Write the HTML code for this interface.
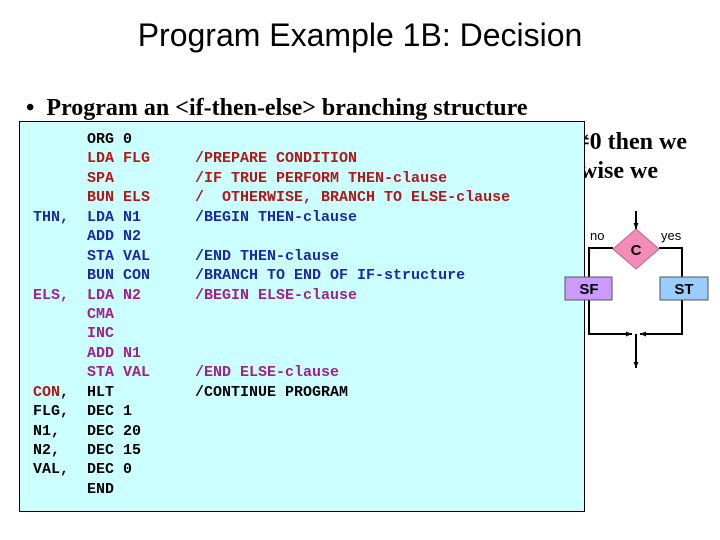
<!DOCTYPE html>
<html><head><meta charset="utf-8"><style>
body{margin:0;width:720px;height:540px;background:#fff;position:relative;overflow:hidden;font-family:"Liberation Sans",sans-serif}
.t{position:absolute;white-space:pre}
.rt{position:absolute;white-space:pre;text-align:right;font:bold 24px 'Liberation Serif',serif}
#box{position:absolute;left:19px;top:121px;width:566px;height:391px;background:#ccffff;border:1px solid #000;box-sizing:border-box}
pre{position:absolute;left:33px;top:130px;margin:0;font:bold 15px/19.44px "Liberation Mono",monospace;color:#000}
.r{color:#b01818}.b{color:#1c28a8}.m{color:#a0208c}
</style></head><body>
<div class="t" style="left:0;width:720px;text-align:center;top:17px;font-size:32px">Program Example 1B: Decision</div>
<div class="t" style="left:26px;top:95px;font:bold 24px 'Liberation Serif',serif">•&nbsp;&nbsp;Program an &lt;if-then-else&gt; branching structure</div>
<div class="rt" style="right:33px;top:129px">the condition is ≠0 then we</div>
<div class="rt" style="right:62px;top:158px">perform, otherwise we</div>
<div id="box"></div>
<pre>      ORG 0
<span class="r">      LDA FLG     /PREPARE CONDITION
      SPA         /IF TRUE PERFORM THEN-clause
      BUN ELS     /  OTHERWISE, BRANCH TO ELSE-clause</span>
<span class="b">THN,  LDA N1      /BEGIN THEN-clause
      ADD N2
      STA VAL     /END THEN-clause
      BUN CON     /BRANCH TO END OF IF-structure</span>
<span class="m">ELS,  LDA N2      /BEGIN ELSE-clause
      CMA
      INC
      ADD N1
      STA VAL     /END ELSE-clause</span>
<span class="r">CON</span>,  HLT         /CONTINUE PROGRAM
FLG,  DEC 1
N1,   DEC 20
N2,   DEC 15
VAL,  DEC 0
      END</pre>
<svg style="position:absolute;left:0;top:0" width="720" height="540">
<defs><marker id="a" markerUnits="userSpaceOnUse" markerWidth="8" markerHeight="8" refX="6" refY="4" orient="auto"><path d="M0,1.5 L6,4 L0,6.5z" fill="#000"/></marker></defs>
<g stroke="#000" stroke-width="2" fill="none">
<line x1="636" y1="211" x2="636" y2="229" marker-end="url(#a)"/>
<polyline points="613,248 589,248 589,334 632,334" marker-end="url(#a)"/>
<polyline points="659,248 682,248 682,334 640,334" marker-end="url(#a)"/>
<line x1="636" y1="334" x2="636" y2="368" marker-end="url(#a)"/>
</g>
<polygon points="636,229 659,249 636,269 613,249" fill="#f48cb8" stroke="#c06090"/>
<rect x="565" y="277" width="47" height="23" fill="#cc99ff" stroke="#555"/>
<rect x="660" y="277" width="48" height="23" fill="#99ccff" stroke="#555"/>
<text x="636" y="255" font-family="Liberation Sans" font-weight="bold" font-size="15" text-anchor="middle">C</text>
<text x="589" y="294" font-family="Liberation Sans" font-weight="bold" font-size="15" text-anchor="middle">SF</text>
<text x="684" y="294" font-family="Liberation Sans" font-weight="bold" font-size="15" text-anchor="middle">ST</text>
<text x="590" y="240" font-family="Liberation Sans" font-size="13">no</text>
<text x="661" y="240" font-family="Liberation Sans" font-size="13">yes</text>
</svg>
</body></html>
